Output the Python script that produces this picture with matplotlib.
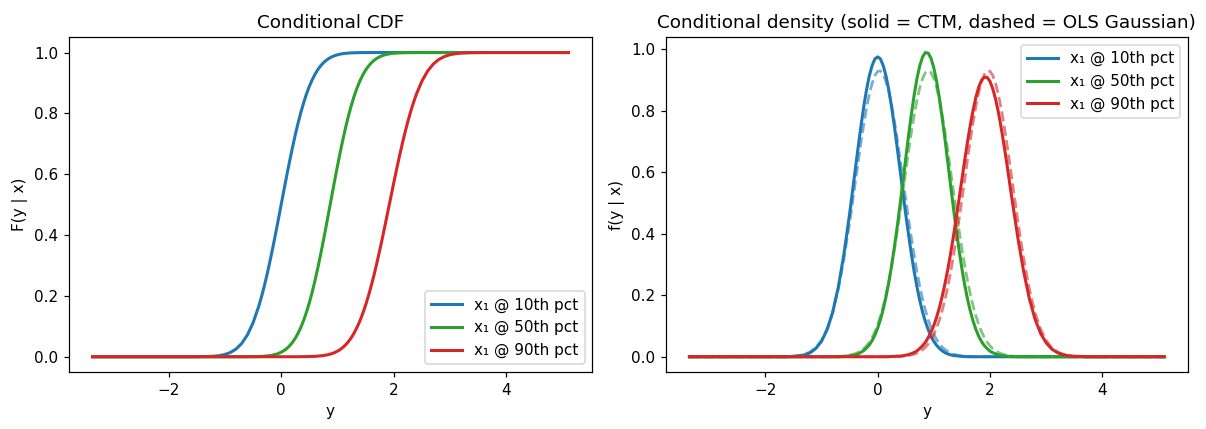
import numpy as np
import matplotlib
matplotlib.use('Agg')
import matplotlib.pyplot as plt

# y values the curves were read at (coarse grid + extra half steps around the peaks)
y_grid = [-3.35, -2.0,
          -1.7, -1.6, -1.5, -1.4, -1.3, -1.2, -1.1, -1.0, -0.9, -0.8,
          -0.7, -0.6, -0.5, -0.4, -0.3, -0.2, -0.1, 0.0, 0.1, 0.2,
          0.3, 0.4, 0.5, 0.6, 0.7, 0.8, 0.9, 1.0, 1.1, 1.2,
          1.3, 1.4, 1.5, 1.6, 1.7, 1.8, 1.9, 2.0, 2.1, 2.2,
          2.3, 2.4, 2.5, 2.6, 2.7, 2.8, 2.9, 3.0, 3.1, 3.2,
          3.3, 3.4, 3.5, 3.6, 3.7, 3.8, 3.9,
          4.5, 5.1]
y_mid = [-0.35, -0.25, -0.15, -0.05, 0.05, 0.15, 0.25, 0.35, 0.45, 0.55,
         0.65, 0.75, 0.85, 0.95, 1.05, 1.15, 1.25, 1.35, 1.45, 1.55,
         1.65, 1.75, 1.85, 1.95, 2.05, 2.15, 2.25, 2.35]

labels = ['x\u2081 @ 10th pct', 'x\u2081 @ 50th pct', 'x\u2081 @ 90th pct']
colors = ['#1f77b4', '#2ca02c', '#d62728']

# conditional CDF
cdf_10 = [0, 0,
          0, 0, 0.0001, 0.0003, 0.0008, 0.0017, 0.0036, 0.0074, 0.0141, 0.0255,
          0.0439, 0.0717, 0.1112, 0.1646, 0.2321, 0.3128, 0.4036, 0.5, 0.5964, 0.6872,
          0.7679, 0.8354, 0.8888, 0.9283, 0.9561, 0.9745, 0.9859, 0.9926, 0.9964, 0.9983,
          0.9992, 0.9997, 0.9999, 1, 1, 1, 1, 1, 1, 1,
          1, 1, 1, 1, 1, 1, 1, 1, 1, 1,
          1, 1, 1, 1, 1, 1, 1,
          1, 1]
cdf_10_mid = [0.1966, 0.2709, 0.3572, 0.4515, 0.5485, 0.6428, 0.7291, 0.8034, 0.8639, 0.9100,
              0.9435, 0.9663, 0.9809, 0.9898, 0.9948, 0.9975, 0.9989, 0.9995, 0.9998, 0.9999,
              1, 1, 1, 1, 1, 1, 1, 1]
cdf_50 = [0, 0,
          0, 0, 0, 0, 0, 0, 0, 0, 0, 0,
          0, 0.0001, 0.0003, 0.0007, 0.0017, 0.0037, 0.0077, 0.0148, 0.0271, 0.047,
          0.0771, 0.12, 0.1775, 0.2498, 0.3354, 0.4305, 0.5299, 0.6274, 0.7174, 0.7953,
          0.8588, 0.9074, 0.9424, 0.966, 0.981, 0.99, 0.995, 0.9976, 0.9989, 0.9996,
          0.9998, 0.9999, 1, 1, 1, 1, 1, 1, 1, 1,
          1, 1, 1, 1, 1, 1, 1,
          1, 1]
cdf_50_mid = [0.0011, 0.0026, 0.0054, 0.0107, 0.0202, 0.0359, 0.0606, 0.0968, 0.1469, 0.2119,
              0.2912, 0.3821, 0.4801, 0.5793, 0.6736, 0.758, 0.8289, 0.8849, 0.9265, 0.9554,
              0.9744, 0.9861, 0.9929, 0.9965, 0.9984, 0.9993, 0.9997, 0.9999]
cdf_90 = [0, 0,
          0, 0, 0, 0, 0, 0, 0, 0, 0, 0,
          0, 0, 0, 0, 0, 0, 0, 0, 0, 0,
          0.0001, 0.0003, 0.0006, 0.0013, 0.0028, 0.0055, 0.0102, 0.0183, 0.0312, 0.0509,
          0.0794, 0.1186, 0.1699, 0.2336, 0.3085, 0.3925, 0.4819, 0.5722, 0.6587, 0.7377,
          0.8061, 0.8623, 0.9063, 0.9389, 0.9619, 0.9772, 0.987, 0.993, 0.9963, 0.9982,
          0.9991, 0.9996, 0.9998, 0.9999, 1, 1, 1,
          1, 1]
cdf_90_mid = [0, 0, 0, 0, 0, 0, 0, 0.0002, 0.0004, 0.0009,
              0.0020, 0.0039, 0.0075, 0.0137, 0.0240, 0.0401, 0.0639, 0.0977, 0.1428, 0.2002,
              0.2696, 0.3497, 0.4368, 0.5271, 0.6160, 0.6995, 0.7734, 0.8357]

# conditional density, CTM (solid)
pdf_10 = [0, 0,
          0, 0, 0.001, 0.003, 0.006, 0.013, 0.027, 0.050, 0.088, 0.145,
          0.227, 0.334, 0.463, 0.606, 0.746, 0.866, 0.946, 0.975, 0.946, 0.866,
          0.746, 0.606, 0.463, 0.334, 0.227, 0.145, 0.088, 0.050, 0.027, 0.013,
          0.006, 0.003, 0.001, 0, 0, 0, 0, 0, 0, 0,
          0, 0, 0, 0, 0, 0, 0, 0, 0, 0,
          0, 0, 0, 0, 0, 0, 0,
          0, 0]
pdf_10_mid = [0.677, 0.810, 0.912, 0.968, 0.968, 0.912, 0.810, 0.677, 0.534, 0.397,
              0.277, 0.183, 0.114, 0.067, 0.037, 0.019, 0.009, 0.004, 0.002, 0.001,
              0, 0, 0, 0, 0, 0, 0, 0]
pdf_50 = [0, 0,
          0, 0, 0, 0, 0, 0, 0, 0, 0, 0,
          0, 0.001, 0.003, 0.006, 0.014, 0.028, 0.052, 0.093, 0.155, 0.243,
          0.359, 0.496, 0.645, 0.788, 0.905, 0.975, 0.987, 0.939, 0.839, 0.705,
          0.555, 0.412, 0.286, 0.187, 0.115, 0.066, 0.036, 0.018, 0.009, 0.004,
          0.002, 0.001, 0, 0, 0, 0, 0, 0, 0, 0,
          0, 0, 0, 0, 0, 0, 0,
          0, 0]
pdf_50_mid = [0.009, 0.020, 0.038, 0.070, 0.121, 0.196, 0.298, 0.425, 0.571, 0.719,
              0.851, 0.946, 0.989, 0.970, 0.895, 0.775, 0.630, 0.482, 0.346, 0.233,
              0.148, 0.088, 0.049, 0.026, 0.013, 0.006, 0.003, 0.001]
pdf_90 = [0, 0,
          0, 0, 0, 0, 0, 0, 0, 0, 0, 0,
          0, 0, 0, 0, 0, 0, 0, 0, 0, 0,
          0.001, 0.002, 0.005, 0.010, 0.019, 0.036, 0.062, 0.102, 0.160, 0.239,
          0.337, 0.453, 0.577, 0.699, 0.803, 0.877, 0.909, 0.895, 0.837, 0.743,
          0.627, 0.502, 0.382, 0.276, 0.189, 0.123, 0.076, 0.045, 0.025, 0.013,
          0.007, 0.003, 0.001, 0.001, 0, 0, 0,
          0, 0]
pdf_90_mid = [0, 0, 0, 0, 0, 0, 0.001, 0.002, 0.003, 0.007,
              0.014, 0.027, 0.047, 0.080, 0.129, 0.197, 0.285, 0.393, 0.514, 0.639,
              0.754, 0.845, 0.899, 0.908, 0.871, 0.794, 0.687, 0.564]

# OLS gaussian (dashed)
ols_10 = [0, 0,
          0, 0.001, 0.002, 0.004, 0.008, 0.016, 0.029, 0.053, 0.090, 0.144,
          0.220, 0.318, 0.435, 0.564, 0.693, 0.806, 0.888, 0.928, 0.918, 0.860,
          0.764, 0.642, 0.512, 0.386, 0.276, 0.187, 0.120, 0.073, 0.042, 0.023,
          0.012, 0.006, 0.003, 0.001, 0, 0, 0, 0, 0, 0,
          0, 0, 0, 0, 0, 0, 0, 0, 0, 0,
          0, 0, 0, 0, 0, 0, 0,
          0, 0]
ols_10_mid = [0.629, 0.752, 0.852, 0.914, 0.929, 0.894, 0.816, 0.705, 0.577, 0.448,
              0.329, 0.229, 0.151, 0.094, 0.056, 0.031, 0.017, 0.008, 0.004, 0.002,
              0.001, 0, 0, 0, 0, 0, 0, 0]
ols_50 = [0, 0,
          0, 0, 0, 0, 0, 0, 0, 0, 0, 0,
          0.001, 0.002, 0.005, 0.010, 0.019, 0.035, 0.062, 0.104, 0.165, 0.247,
          0.351, 0.473, 0.603, 0.729, 0.835, 0.905, 0.930, 0.905, 0.835, 0.729,
          0.603, 0.473, 0.351, 0.247, 0.165, 0.104, 0.062, 0.035, 0.019, 0.010,
          0.005, 0.002, 0.001, 0, 0, 0, 0, 0, 0, 0,
          0, 0, 0, 0, 0, 0, 0,
          0, 0]
ols_50_mid = [0.014, 0.026, 0.047, 0.081, 0.132, 0.203, 0.297, 0.410, 0.538, 0.668,
              0.785, 0.875, 0.924, 0.924, 0.875, 0.785, 0.668, 0.538, 0.410, 0.297,
              0.203, 0.132, 0.081, 0.047, 0.026, 0.014, 0.007, 0.003]
ols_90 = [0, 0,
          0, 0, 0, 0, 0, 0, 0, 0, 0, 0,
          0, 0, 0, 0, 0, 0, 0, 0, 0, 0,
          0, 0.001, 0.003, 0.006, 0.012, 0.023, 0.042, 0.073, 0.120, 0.187,
          0.276, 0.386, 0.512, 0.642, 0.764, 0.860, 0.918, 0.928, 0.888, 0.806,
          0.693, 0.564, 0.435, 0.318, 0.220, 0.144, 0.090, 0.053, 0.029, 0.016,
          0.008, 0.004, 0.002, 0.001, 0, 0, 0,
          0, 0]
ols_90_mid = [0, 0, 0, 0, 0, 0, 0, 0.001, 0.002, 0.004,
              0.008, 0.017, 0.031, 0.056, 0.094, 0.151, 0.229, 0.329, 0.448, 0.577,
              0.705, 0.816, 0.894, 0.929, 0.914, 0.852, 0.752, 0.629]

cdfs = [(cdf_10, cdf_10_mid), (cdf_50, cdf_50_mid), (cdf_90, cdf_90_mid)]
pdfs = [(pdf_10, pdf_10_mid), (pdf_50, pdf_50_mid), (pdf_90, pdf_90_mid)]
ols = [(ols_10, ols_10_mid), (ols_50, ols_50_mid), (ols_90, ols_90_mid)]

y_all = np.array(y_grid + y_mid)
order = np.argsort(y_all)
ys = y_all[order]


def joined(pair):
    return np.array(pair[0] + pair[1])[order]


fig = plt.figure(figsize=(1206 / 110, 429 / 110), dpi=110)
ax1 = fig.add_axes([0.057, 0.133, 0.434, 0.780])
ax2 = fig.add_axes([0.552, 0.133, 0.433, 0.780])

for i in range(3):
    ax1.plot(ys, joined(cdfs[i]), color=colors[i], lw=2, label=labels[i])
ax1.set_title('Conditional CDF')
ax1.set_xlabel('y')
ax1.set_ylabel('F(y | x)')
ax1.legend(loc='lower right')

for i in range(3):
    ax2.plot(ys, joined(pdfs[i]), color=colors[i], lw=2, label=labels[i])
    ax2.plot(ys, joined(ols[i]), color=colors[i], lw=1.8, ls='--', alpha=0.6)
ax2.set_title('Conditional density (solid = CTM, dashed = OLS Gaussian)')
ax2.set_xlabel('y')
ax2.set_ylabel('f(y | x)')
ax2.legend(loc='upper right')

fig.savefig('out.png', dpi=110)
